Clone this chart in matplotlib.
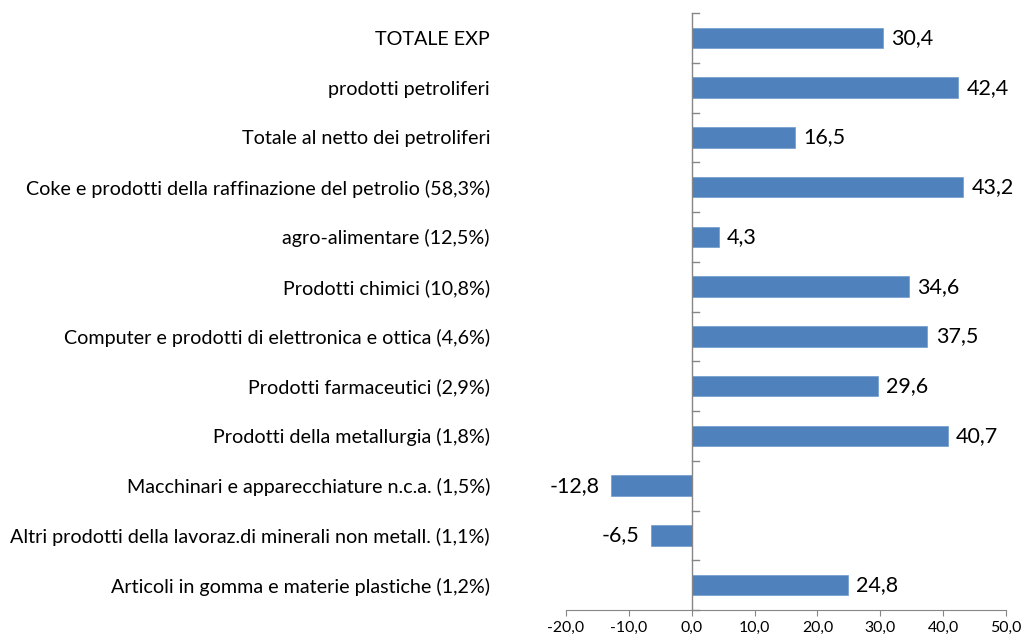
import matplotlib
matplotlib.use("Agg")
from matplotlib import pyplot as plt
import numpy as np

categories = [
    "TOTALE EXP",
    "prodotti petroliferi",
    "Totale al netto dei petroliferi",
    "Coke e prodotti della raffinazione del petrolio (58,3%)",
    "agro-alimentare (12,5%)",
    "Prodotti chimici (10,8%)",
    "Computer e prodotti di elettronica e ottica (4,6%)",
    "Prodotti farmaceutici (2,9%)",
    "Prodotti della metallurgia (1,8%)",
    "Macchinari e apparecchiature n.c.a. (1,5%)",
    "Altri prodotti della lavoraz.di minerali non metall. (1,1%)",
    "Articoli in gomma e materie plastiche (1,2%)",
]
values = [30.4, 42.4, 16.5, 43.2, 4.3, 34.6, 37.5, 29.6, 40.7, -12.8, -6.5, 24.8]
xticks = [-20, -10, 0, 10, 20, 30, 40, 50]


def fmt(v):
    return f"{v:.1f}".replace(".", ",")


def main():
    plt.rcParams['font.family'] = ['Lato', 'DejaVu Sans']
    fig = plt.figure(figsize=(10.24, 6.39), dpi=100)
    ax = fig.add_axes([566 / 1024, 1 - 610 / 639, 440 / 1024, 597 / 639])

    n = len(categories)
    ypos = np.arange(n)
    ax.barh(ypos, values, height=0.41, color='#4F81BD', edgecolor='#6E9AD0', linewidth=0.5, zorder=2)
    ax.set_ylim(n - 0.5, -0.5)
    ax.set_xlim(-20, 50)

    # category axis at zero
    grey = '#868686'
    ax.axvline(0, color=grey, linewidth=1, zorder=3)
    for b in np.arange(-0.5, n, 1.0):
        ax.plot([0, 1.1], [b, b], color=grey, linewidth=1, zorder=3, clip_on=False)

    for s in ['top', 'right', 'left']:
        ax.spines[s].set_visible(False)
    ax.spines['bottom'].set_color(grey)
    ax.set_xticks(xticks)
    ax.set_xticklabels([fmt(t) for t in xticks], fontsize=11.4, color='#000000')
    ax.tick_params(axis='x', direction='out', length=4.5, color=grey, pad=3)

    ax.set_yticks(ypos)
    ax.set_yticklabels(categories, fontsize=14.2)
    ax.tick_params(axis='y', length=0, pad=76 * 0.72)

    for y, v in zip(ypos, values):
        if v >= 0:
            ax.annotate(fmt(v), (v, y), xytext=(6, 0), textcoords='offset points',
                        ha='left', va='center', fontsize=15.5)
        else:
            ax.annotate(fmt(v), (v, y), xytext=(-8.5, 0), textcoords='offset points',
                        ha='right', va='center', fontsize=15.5)

    fig.savefig('out.png', dpi=100)


if __name__ == '__main__':
    main()
